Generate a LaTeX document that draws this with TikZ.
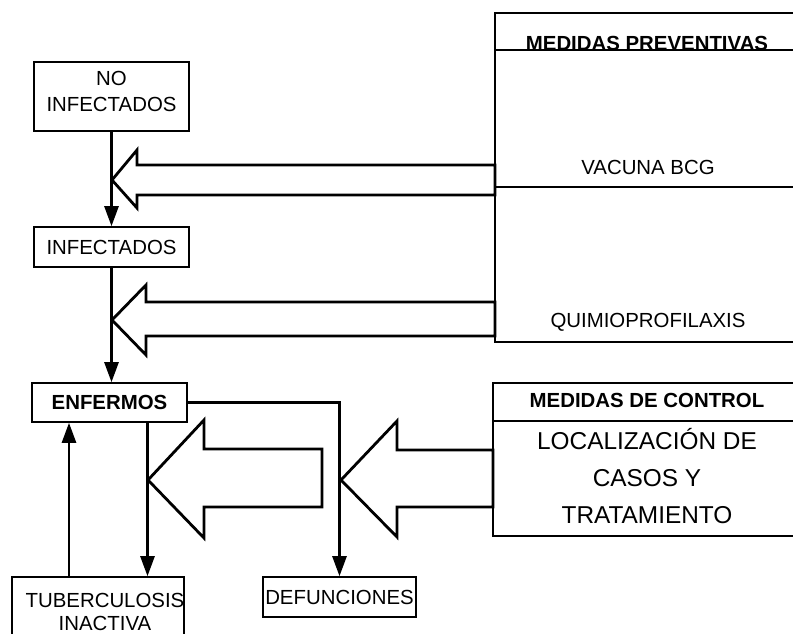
\documentclass[tikz,border=0pt]{standalone}
\usepackage{fontspec}
\setmainfont{Liberation Sans}
\usetikzlibrary{arrows.meta}

\begin{document}
\begin{tikzpicture}[x=0.5pt,y=-0.5pt,
        flow/.style={draw=black,line width=1.3pt,-{Triangle[width=7pt,length=10pt]}},
        bigarrow/.style={draw=black,line width=1.4pt,line join=miter},
        rule/.style={draw=black,line width=0.7pt},
        frame/.style={draw=black,line width=1.3pt}]
            \useasboundingbox (0,0) rectangle (793,633);
            \clip (0,0) rectangle (793,633);

            \begin{scope}[every node/.style={draw,line width=0.8pt,inner sep=0pt,align=center,
                          font=\fontsize{10.2}{13}\selectfont}]
                \node (noinf) [minimum width=77.5pt, minimum height=34.5pt] at (111.5,96.5) {};
                \node (noinftxt) [draw=none] at (111.5,91.5) {NO\\INFECTADOS};
                \node (inf) [minimum width=77.5pt, minimum height=20pt] at (111.5,247) {INFECTADOS};
                \node (enf) [minimum width=77.5pt, minimum height=19.5pt, font=\fontsize{10.2}{13}\selectfont\bfseries] at (109.5,402.5) {ENFERMOS};
                \node (tub) [minimum width=86pt, minimum height=41.5pt] at (98,618.5) {};
                \node (tubtxt) [draw=none, font=\fontsize{10.2}{11.5}\selectfont] at (105,611.5) {TUBERCULOSIS\\INACTIVA};
                \node (def) [minimum width=76.5pt, minimum height=20pt] at (339.5,597) {DEFUNCIONES};
            \end{scope}

            % tablas de medidas
            \draw[frame] (800,13) -- (495,13) -- (495,342) -- (800,342);
            \draw[rule] (495,50) -- (800,50);
            \draw[rule] (495,187) -- (800,187);
            \draw[frame] (800,383) -- (493,383) -- (493,536) -- (800,536);
            \draw[rule] (493,421) -- (800,421);

            \begin{scope}[every node/.style={inner sep=0pt,align=center,font=\fontsize{10.2}{13}\selectfont}]
                \node (prevhead) [anchor=base, font=\fontsize{10.2}{13}\selectfont\bfseries] at (647,50.5) {MEDIDAS PREVENTIVAS};
                \node (bcg) at (648,167) {VACUNA BCG};
                \node (quimio) at (648,322) {QUIMIOPROFILAXIS};
                \node (ctrlhead) [font=\fontsize{10.2}{13}\selectfont\bfseries] at (647,400) {MEDIDAS DE CONTROL};
                \node (locali) [font=\fontsize{12.2}{18.5}\selectfont] at (647,476) {LOCALIZACIÓN DE\\CASOS Y\\TRATAMIENTO};
            \end{scope}

            % flechas entre estados
            \coordinate (e1) at ([xshift=19pt]enf.south);
            \coordinate (t1) at ([xshift=-14.5pt]tub.north);
            \draw[flow] (noinf.south) -- (inf.north);
            \draw[flow] (inf.south) -- (inf.south |- enf.north);
            \draw[flow] (enf.east) -| (def.north);
            \draw[flow] (e1) -- (e1 |- tub.north);
            \draw[flow] (t1) -- (t1 |- enf.south);

            % flechas gruesas de las medidas
            \draw[bigarrow] (112,180) -- (137,150) -- (137,165) -- (495,165) -- (495,195) -- (137,195) -- (137,208) -- cycle;
            \draw[bigarrow] (112,320) -- (146,285) -- (146,302) -- (495,302) -- (495,336) -- (146,336) -- (146,355) -- cycle;
            \draw[bigarrow] (148,480) -- (204,420) -- (204,449) -- (322,449) -- (322,507) -- (204,507) -- (204,538) -- cycle;
            \draw[bigarrow] (341,480) -- (397,421) -- (397,450) -- (493,450) -- (493,507) -- (397,507) -- (397,537) -- cycle;
        \end{tikzpicture}
\end{document}
